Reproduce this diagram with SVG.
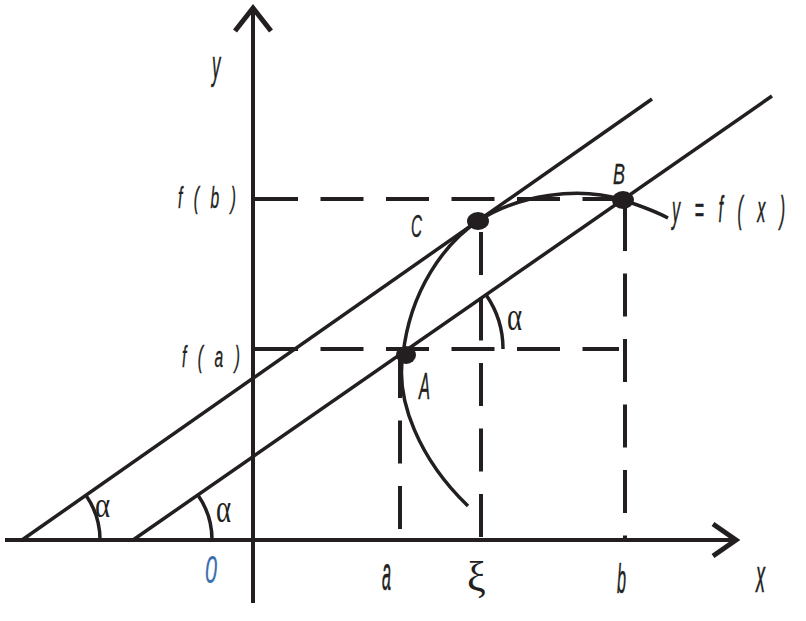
<svg xmlns="http://www.w3.org/2000/svg" width="806" height="621" viewBox="0 0 806 621">
<style>
.ax{stroke:#231f20;fill:none;stroke-width:4}
.arr{stroke:#231f20;fill:none;stroke-width:5;stroke-linejoin:miter}
.ln{stroke:#231f20;fill:none;stroke-width:3.5}
.dash{stroke:#231f20;fill:none;stroke-width:4;stroke-dasharray:43 22.5}
.dot{fill:#231f20}
.lbl{font-family:"Liberation Sans",Arial,sans-serif;font-style:italic;fill:#231f20;stroke:#231f20;stroke-width:0.35}
.gr{font-family:"Liberation Serif","Times New Roman",serif;fill:#231f20}
</style>
<rect width="806" height="621" fill="#ffffff"/>
<g id="axes">
  <line class="ax" x1="253" y1="10" x2="253" y2="603"/>
  <polyline class="arr" points="235,31 253,8 271,31"/>
  <line class="ax" x1="5" y1="540" x2="734" y2="540"/>
  <polyline class="arr" points="713,524 736,540 713,556"/>
</g>
<g id="guides">
  <line class="dash" x1="255" y1="199" x2="619" y2="199"/>
  <line class="dash" x1="255" y1="349" x2="619" y2="349"/>
  <line class="dash" x1="400" y1="355" x2="400" y2="533"/>
  <line class="dash" x1="481" y1="232" x2="481" y2="540"/>
  <line class="dash" x1="625" y1="208" x2="625" y2="540"/>
</g>
<g id="connectors">
  <line class="ln" x1="133" y1="540" x2="772" y2="96"/>
  <line class="ln" x1="22" y1="540" x2="652" y2="99"/>
  <path class="ln" d="M85.9,495.3 A78,78 0 0 1 100,541"/>
  <path class="ln" d="M197.9,494.9 A79,79 0 0 1 212,541"/>
  <path class="ln" d="M486,294.8 A95,95 0 0 1 503,349"/>
</g>
<g id="curve">
  <path class="ln" d="M468,506 C420,460 395,400 403,355 C410,290 445,243 478,221 C518,195 578,186 623,200 C638,205 655,211 668,218"/>
</g>
<g id="point-A"><ellipse class="dot" cx="406" cy="355" rx="10" ry="9"/></g>
<g id="point-C"><ellipse class="dot" cx="478" cy="221" rx="11" ry="9"/></g>
<g id="point-B"><ellipse class="dot" cx="623" cy="200" rx="11" ry="9"/></g>
<g id="labels">
  <text class="lbl" font-size="28" transform="translate(212,79) scale(0.6,1.46)">y</text>
  <text class="lbl" font-size="26" letter-spacing="6" transform="translate(178,208) scale(0.6,1.1)">f ( b )</text>
  <text class="lbl" font-size="26" letter-spacing="6" transform="translate(182,367) scale(0.6,1.1)">f ( a )</text>
  <text class="lbl" font-size="27" letter-spacing="8.3" transform="translate(672,222) scale(0.6,1.4)">y = f ( x )</text>
  <text class="lbl" font-size="25.4" transform="translate(411,237) scale(0.6,1.2)">C</text>
  <text class="lbl" font-size="27.5" transform="translate(419,399) scale(0.6,1.37)">A</text>
  <text class="lbl" font-size="30" transform="translate(613,184) scale(0.6,1)">B</text>
  <text class="lbl" font-size="27" transform="translate(382,590) scale(0.6,1.75)">a</text>
  <text class="lbl" font-size="27" transform="translate(617,593) scale(0.6,1.52)">b</text>
  <text class="lbl" font-size="30" transform="translate(756,592) scale(0.6,1.53)">x</text>
  <text class="lbl" font-size="36" style="fill:#3a6fb0;stroke:#3a6fb0;stroke-width:0.2" transform="translate(205,583) scale(0.6,1.1)">0</text>
  <text class="gr" font-size="42" x="467" y="591">ξ</text>
  <text class="gr" font-size="36" transform="translate(95,517) scale(0.8,1)">α</text>
  <text class="gr" font-size="36" transform="translate(216,522) scale(0.8,1.1)">α</text>
  <text class="gr" font-size="36" transform="translate(507,330) scale(0.8,1.1)">α</text>
</g>
</svg>
